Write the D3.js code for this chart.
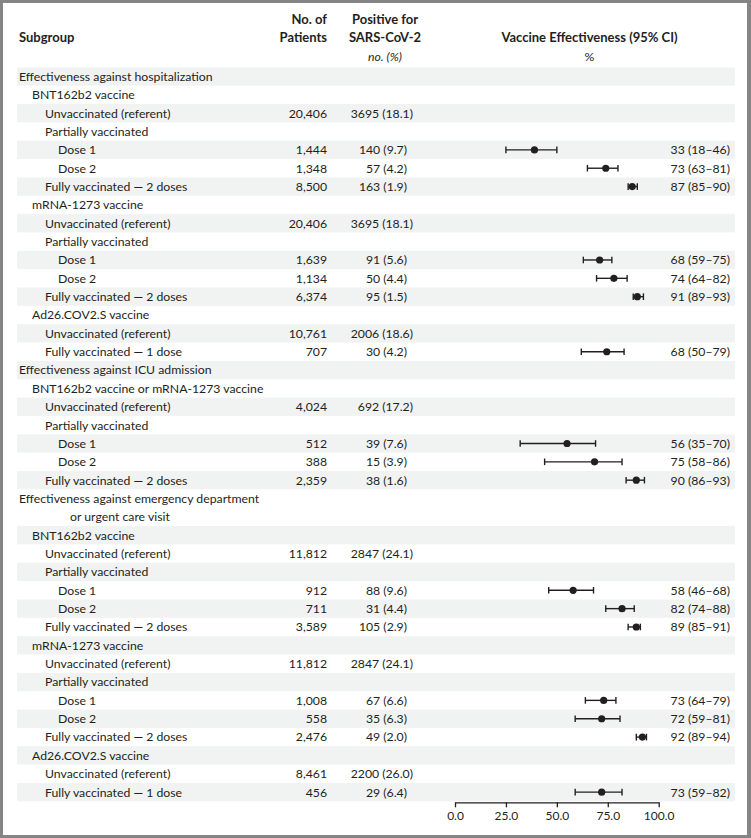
<!DOCTYPE html>
<html><head><meta charset="utf-8">
<script src="https://cdn.jsdelivr.net/npm/d3@7"></script>
<style>
html,body{margin:0;padding:0;background:#fff;}
svg{display:block;}
text{font-family:Lato,"Noto Sans",sans-serif;fill:#231f20;}
</style></head><body>
<script>
const subgroups = [
 "Effectiveness against hospitalization","BNT162b2 vaccine","Unvaccinated (referent)","Partially vaccinated","Dose 1","Dose 2","Fully vaccinated — 2 doses",
 "mRNA-1273 vaccine","Unvaccinated (referent)","Partially vaccinated","Dose 1","Dose 2","Fully vaccinated — 2 doses",
 "Ad26.COV2.S vaccine","Unvaccinated (referent)","Fully vaccinated — 1 dose",
 "Effectiveness against ICU admission","BNT162b2 vaccine or mRNA-1273 vaccine","Unvaccinated (referent)","Partially vaccinated","Dose 1","Dose 2","Fully vaccinated — 2 doses",
 "Effectiveness against emergency department|or urgent care visit","BNT162b2 vaccine","Unvaccinated (referent)","Partially vaccinated","Dose 1","Dose 2","Fully vaccinated — 2 doses",
 "mRNA-1273 vaccine","Unvaccinated (referent)","Partially vaccinated","Dose 1","Dose 2","Fully vaccinated — 2 doses",
 "Ad26.COV2.S vaccine","Unvaccinated (referent)","Fully vaccinated — 1 dose"];
const levels = [0,1,2,2,3,3,2, 1,2,2,3,3,2, 1,2,2, 0,1,2,2,3,3,2, 0,1,2,2,3,3,2, 1,2,2,3,3,2, 1,2,2];
const patients = ["","","20,406","","1,444","1,348","8,500", "","20,406","","1,639","1,134","6,374", "","10,761","707",
 "","","4,024","","512","388","2,359", "","","11,812","","912","711","3,589", "","11,812","","1,008","558","2,476", "","8,461","456"];
const positives = ["","","3695 (18.1)","","140 (9.7)","57 (4.2)","163 (1.9)", "","3695 (18.1)","","91 (5.6)","50 (4.4)","95 (1.5)", "","2006 (18.6)","30 (4.2)",
 "","","692 (17.2)","","39 (7.6)","15 (3.9)","38 (1.6)", "","","2847 (24.1)","","88 (9.6)","31 (4.4)","105 (2.9)", "","2847 (24.1)","","67 (6.6)","35 (6.3)","49 (2.0)", "","2200 (26.0)","29 (6.4)"];
const veText = ["","","","","33 (18–46)","73 (63–81)","87 (85–90)", "","","","68 (59–75)","74 (64–82)","91 (89–93)", "","","68 (50–79)",
 "","","","","56 (35–70)","75 (58–86)","90 (86–93)", "","","","","58 (46–68)","82 (74–88)","89 (85–91)", "","","","73 (64–79)","72 (59–81)","92 (89–94)", "","","73 (59–82)"];
// plotted positions as drawn in the figure
const veEst  = [null,null,null,null,39,74,87, null,null,null,71,78,89.5, null,null,74.5, null,null,null,null,55,68.5,89, null,null,null,null,58,82,89, null,null,null,73,72,92, null,null,72];
const veLow  = [null,null,null,null,25,65,85, null,null,null,63,69.5,87.5, null,null,62, null,null,null,null,32,44,84, null,null,null,null,46,74,85, null,null,null,64,59,89, null,null,59];
const veHigh = [null,null,null,null,50,80,89.5, null,null,null,77,84.5,92.5, null,null,83, null,null,null,null,69,82,93, null,null,null,null,68,88,91, null,null,null,79,81,94, null,null,82];
const axisTicks = [0,25,50,75,100];

const W = 751, H = 838;
const svg = d3.select("body").append("svg").attr("width", W).attr("height", H);
svg.append("rect").attr("width", W).attr("height", H).attr("fill", "#858585");
svg.append("rect").attr("x", 3).attr("y", 3).attr("width", 744).attr("height", 832).attr("fill", "#fff");

const FS = 12.25, HFS = 13;
let slot = 0;
const rows = subgroups.map((s, i) => {
  const lines = s.split("|");
  const r = {i, lines, level: levels[i], slot, n: lines.length};
  slot += lines.length;
  return r;
});
const totalSlots = slot;
const y = d3.scaleLinear().domain([0, totalSlots]).range([67.3, 67.3 + totalSlots * 18.35]);
const x = d3.scaleLinear().domain([0, 100]).range([455, 658.7]);
const indent = [19, 32, 45, 58];

// stripes
svg.append("g").selectAll("rect").data(rows.filter(r => r.i % 2 === 0)).join("rect")
  .attr("x", 17).attr("width", 718)
  .attr("y", r => y(r.slot)).attr("height", r => y(r.slot + r.n) - y(r.slot))
  .attr("fill", "#f1f2f2");

// header
const hdr = svg.append("g").attr("font-size", HFS).attr("font-weight", 700);
hdr.append("text").attr("x", 19).attr("y", 42).text("Subgroup");
hdr.append("text").attr("x", 327).attr("y", 24).attr("text-anchor", "end").text("No. of");
hdr.append("text").attr("x", 327).attr("y", 42).attr("text-anchor", "end").text("Patients");
hdr.append("text").attr("x", 385).attr("y", 24).attr("text-anchor", "middle").text("Positive for");
hdr.append("text").attr("x", 385).attr("y", 42).attr("text-anchor", "middle").text("SARS-CoV-2");
hdr.append("text").attr("x", 589.5).attr("y", 42).attr("text-anchor", "middle").text("Vaccine Effectiveness (95% CI)");
svg.append("text").attr("x", 385).attr("y", 61).attr("text-anchor", "middle").attr("font-size", FS).attr("font-style", "italic").text("no. (%)");
svg.append("text").attr("x", 589.5).attr("y", 61).attr("text-anchor", "middle").attr("font-size", FS).text("%");

const base = s => (y(s) + y(s + 1)) / 2 + 4.4;
const body = svg.append("g").attr("font-size", FS);
rows.forEach(r => {
  r.lines.forEach((ln, k) => {
    body.append("text").attr("x", k === 0 ? indent[r.level] : 70).attr("y", base(r.slot + k)).text(ln);
  });
  if (patients[r.i]) body.append("text").attr("x", 327).attr("y", base(r.slot)).attr("text-anchor", "end").text(patients[r.i]);
  if (positives[r.i]) {
    const pct = positives[r.i].match(/\((\d+)\./)[1];
    body.append("text").attr("x", pct.length < 2 ? 407 : 413).attr("y", base(r.slot)).attr("text-anchor", "end").text(positives[r.i]);
  }
  if (veText[r.i]) body.append("text").attr("x", 730).attr("y", base(r.slot)).attr("text-anchor", "end").text(veText[r.i]);
});

// forest marks
const marks = svg.append("g").attr("stroke", "#231f20").attr("stroke-width", 1.4);
rows.filter(r => veEst[r.i] != null).forEach(r => {
  const cy = (y(r.slot) + y(r.slot + 1)) / 2;
  const g = marks.append("g");
  g.append("line").attr("x1", x(veLow[r.i])).attr("x2", x(veHigh[r.i])).attr("y1", cy).attr("y2", cy);
  g.append("line").attr("x1", x(veLow[r.i])).attr("x2", x(veLow[r.i])).attr("y1", cy - 3.3).attr("y2", cy + 3.3);
  g.append("line").attr("x1", x(veHigh[r.i])).attr("x2", x(veHigh[r.i])).attr("y1", cy - 3.3).attr("y2", cy + 3.3);
  g.append("circle").attr("cx", x(veEst[r.i])).attr("cy", cy).attr("r", 3.6).attr("fill", "#231f20").attr("stroke", "none");
});

// axis
const axY = y(totalSlots) + 1;
const ax = svg.append("g").attr("transform", `translate(0,${axY})`)
  .call(d3.axisBottom(x).tickValues(axisTicks).tickFormat(d3.format(".1f")).tickSize(5).tickSizeOuter(0));
ax.select(".domain").attr("stroke", "#231f20").attr("stroke-width", 1.3);
ax.selectAll(".tick line").attr("stroke", "#231f20").attr("stroke-width", 1.3);
ax.selectAll(".tick text").attr("font-family", "Lato,'Noto Sans',sans-serif").attr("font-size", 12).attr("fill", "#231f20").attr("dy", "0.85em");
</script>
</body></html>
